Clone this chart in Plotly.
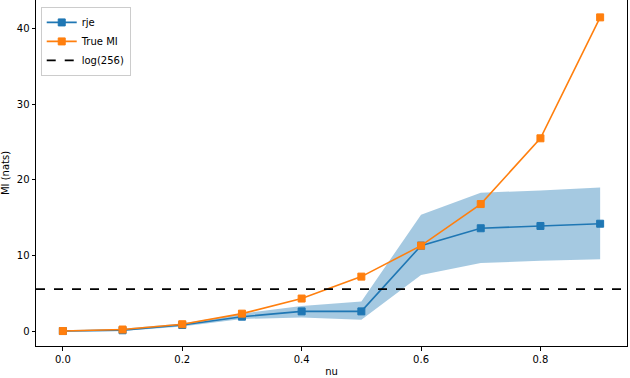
import numpy as np
import plotly.graph_objects as go

# ---------------- data ----------------
nu = [0.0, 0.1, 0.2, 0.3, 0.4, 0.5, 0.6, 0.7, 0.8, 0.9]
rje = [0.0, 0.1, 0.8, 1.9, 2.6, 2.6, 11.3, 13.6, 13.9, 14.2]
rje_lower = [-0.1, 0.0, 0.6, 1.6, 1.8, 1.5, 7.4, 9.0, 9.3, 9.5]
rje_upper = [0.1, 0.3, 1.0, 2.3, 3.3, 3.9, 15.4, 18.3, 18.6, 19.0]
true_mi = [0.0, 0.2, 0.9, 2.3, 4.3, 7.2, 11.3, 16.8, 25.5, 41.5]
log_bound = float(np.log(256))

x_ticks = [0.0, 0.2, 0.4, 0.6, 0.8]
y_ticks = [0, 10, 20, 30, 40]

BLUE = '#1f77b4'
ORANGE = '#ff7f0e'
FONT = 'DejaVu Sans'

fig = go.Figure()

# shaded band for rje
fig.add_trace(go.Scatter(x=nu, y=rje_lower, mode='lines', line=dict(width=0),
                         showlegend=False, hoverinfo='skip'))
fig.add_trace(go.Scatter(x=nu, y=rje_upper, mode='lines', line=dict(width=0),
                         fill='tonexty', fillcolor='rgba(31,119,180,0.4)',
                         showlegend=False, hoverinfo='skip'))

fig.add_trace(go.Scatter(x=nu, y=rje, name='rje', mode='lines+markers',
                         line=dict(color=BLUE, width=1.6),
                         marker=dict(symbol='square', size=7, color=BLUE,
                                     line=dict(color=BLUE, width=1))))
fig.add_trace(go.Scatter(x=nu, y=true_mi, name='True MI', mode='lines+markers',
                         line=dict(color=ORANGE, width=1.6),
                         marker=dict(symbol='square', size=7, color=ORANGE,
                                     line=dict(color=ORANGE, width=1))))

# horizontal bound line + legend entry
fig.add_hline(y=log_bound, line=dict(color='black', width=1.6, dash='dash'))
fig.add_trace(go.Scatter(x=[None], y=[None], name='log(256)', mode='lines',
                         line=dict(color='black', width=1.6, dash='dash')))

axis_style = dict(showgrid=False, zeroline=False, showline=True, mirror=True,
                  linecolor='black', linewidth=1, ticks='outside', ticklen=3.5,
                  tickcolor='black', tickfont=dict(size=10, color='black'),
                  automargin=False)

fig.update_layout(
    width=630, height=378,
    margin=dict(l=36, r=3, t=0, b=32),
    plot_bgcolor='white', paper_bgcolor='white',
    font=dict(family=FONT, size=10, color='black'),
    xaxis=dict(range=[-0.045, 0.945], tickvals=x_ticks,
               ticktext=[f'{v:.1f}' for v in x_ticks],
               title=dict(text='nu', standoff=4, font=dict(size=10)), **axis_style),
    yaxis=dict(range=[-1.98, 43.8], tickvals=y_ticks,
               title=dict(text='MI (nats)', standoff=8, font=dict(size=10)), **axis_style),
    legend=dict(x=0.008, y=0.98, xanchor='left', yanchor='top', traceorder='normal',
                bgcolor='rgba(255,255,255,0.8)', bordercolor='#cccccc', borderwidth=1,
                font=dict(size=10), tracegroupgap=0, itemwidth=30),
    showlegend=True,
)

fig.write_html("out.html", config={'displayModeBar': False},
               post_script="document.body.style.margin='0';")
